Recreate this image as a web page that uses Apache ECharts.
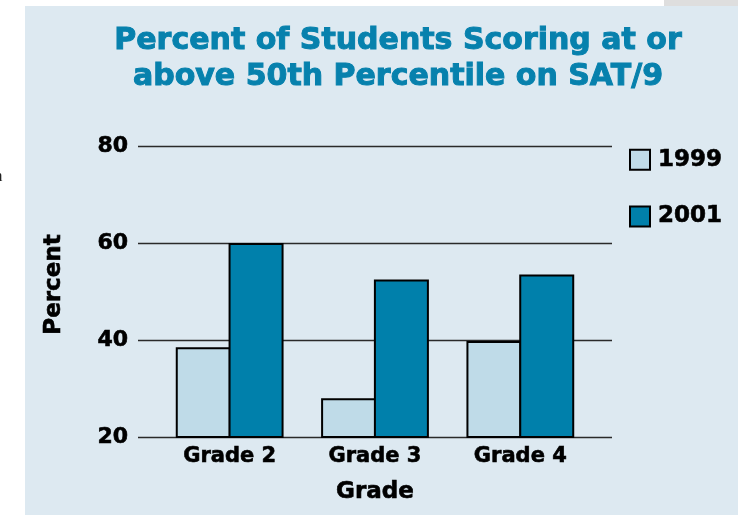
<!DOCTYPE html>
<html><head><meta charset="utf-8">
<script src="https://cdn.jsdelivr.net/npm/echarts@6/dist/echarts.min.js"></script>
<style>html,body{margin:0;padding:0;background:#fff}#c{width:738px;height:517px}</style>
</head><body><div id="c"></div>
<script>
const categories = ['Grade 2', 'Grade 3', 'Grade 4'];
const series1999 = [38.5, 28, 39.8];
const series2001 = [60, 52.5, 53.5];
const seriesNames = ['1999', '2001'];
const yMin = 20, yMax = 80, yStep = 20;

const FONT = 'DejaVu Sans';
const chart = echarts.init(document.getElementById('c'), null, {renderer: 'canvas'});
chart.setOption({
  backgroundColor: '#ffffff',
  animation: false,
  graphic: [
    {type: 'rect', z: -10, shape: {x: 25, y: 6, width: 713, height: 509}, style: {fill: '#dde9f1'}},
    {type: 'rect', z: -10, shape: {x: 664, y: 0, width: 74, height: 6}, style: {fill: '#dedede'}},
    {type: 'text', z: -5, x: -6, y: 168, style: {text: 'n', font: '17px "Liberation Serif"', fill: '#222'}}
  ],
  title: {
    text: 'Percent of Students Scoring at or\nabove 50th Percentile on SAT/9',
    left: 398, top: 23, textAlign: 'center', padding: 0,
    textStyle: {fontFamily: FONT, fontWeight: 'bold', fontSize: 30, lineHeight: 36, color: '#0781ad',
                textBorderColor: '#0781ad', textBorderWidth: 1}
  },
  legend: {
    orient: 'vertical', left: 629, top: 148,
    itemWidth: 20, itemHeight: 20, itemGap: 33, icon: 'rect', padding: 0,
    data: seriesNames,
    textStyle: {fontFamily: FONT, fontWeight: 'bold', fontSize: 23, lineHeight: 20, color: '#000', padding: [0, 0, 0, 3],
                textBorderColor: '#000', textBorderWidth: 0.6}
  },
  grid: [
    {left: 138, width: 474, top: 146, height: 291, containLabel: false},
    {left: 157, width: 436, top: 146, height: 291, containLabel: false}
  ],
  xAxis: [
    {gridIndex: 0, type: 'category', data: categories, show: false},
    {gridIndex: 1, type: 'category', data: categories,
     axisLine: {show: false}, axisTick: {show: false},
     axisLabel: {fontFamily: FONT, fontWeight: 'bold', fontSize: 21, color: '#000', margin: 9,
                 textBorderColor: '#000', textBorderWidth: 0.6},
     name: 'Grade', nameLocation: 'middle', nameGap: 44,
     nameTextStyle: {fontFamily: FONT, fontWeight: 'bold', fontSize: 23, color: '#000',
                     textBorderColor: '#000', textBorderWidth: 0.6}}
  ],
  yAxis: [
    {gridIndex: 0, type: 'value', min: yMin, max: yMax, interval: yStep,
     axisLine: {show: false}, axisTick: {show: false},
     axisLabel: {fontFamily: FONT, fontWeight: 'bold', fontSize: 22, color: '#000', margin: 10,
                 textBorderColor: '#000', textBorderWidth: 0.6},
     splitLine: {lineStyle: {color: '#2a2a2a', width: 1.3}},
     name: 'Percent', nameLocation: 'middle', nameGap: 72,
     nameTextStyle: {fontFamily: FONT, fontWeight: 'bold', fontSize: 23, color: '#000', padding: [0, 0, 0, 14],
                     textBorderColor: '#000', textBorderWidth: 0.6}},
    {gridIndex: 1, type: 'value', min: yMin, max: yMax, interval: yStep, show: false, splitLine: {show: false}}
  ],
  series: [
    {name: seriesNames[0], type: 'bar', xAxisIndex: 1, yAxisIndex: 1, data: series1999,
     barWidth: 55, barGap: '-4%',
     itemStyle: {color: '#bfdbe8', borderColor: '#000', borderWidth: 2}},
    {name: seriesNames[1], type: 'bar', xAxisIndex: 1, yAxisIndex: 1, data: series2001,
     barWidth: 55, barGap: '-4%',
     itemStyle: {color: '#0080ab', borderColor: '#000', borderWidth: 2}}
  ]
});
</script>
</body></html>
